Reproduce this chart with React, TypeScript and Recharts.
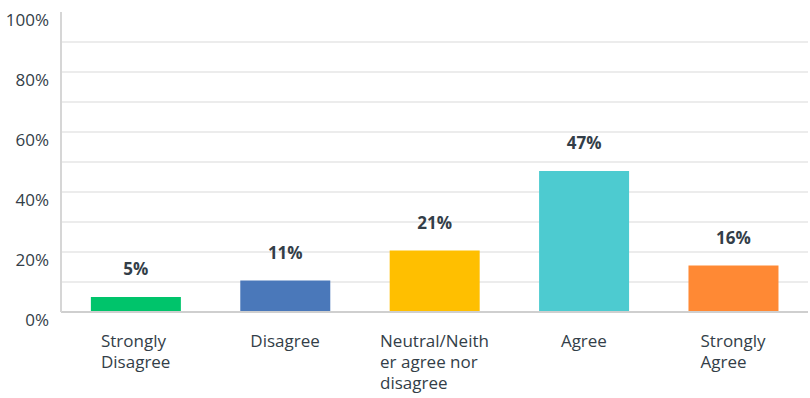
import React, { useLayoutEffect, useRef, useState } from "react";
import { BarChart, Bar, XAxis, YAxis, CartesianGrid, LabelList, Cell } from "recharts";

const categories = ["Strongly Disagree", "Disagree", "Neutral/Neither agree nor disagree", "Agree", "Strongly Agree"];
const categoryLines = [
  ["Strongly", "Disagree"],
  ["Disagree"],
  ["Neutral/Neith", "er agree nor", "disagree"],
  ["Agree"],
  ["Strongly", "Agree"],
];
const values = [5.0, 10.5, 20.5, 47.0, 15.5];
const colors = ["#00c46b", "#4a78ba", "#ffbf00", "#4dcbd0", "#ff8934"];
const yTicks = [0, 10, 20, 30, 40, 50, 60, 70, 80, 90, 100];
const yLabelTicks = [0, 20, 40, 60, 80, 100];

const data = categories.map((c, i) => ({ name: c, value: values[i], lines: categoryLines[i] }));

const FONT = "'Open Sans', 'Noto Sans', sans-serif";
const TEXT = "#333e48";

const XTick = (props: any) => {
  const { x, y, payload, index } = props;
  const ref = useRef<SVGTextElement>(null);
  const [w, setW] = useState(0);
  useLayoutEffect(() => {
    if (ref.current) setW(ref.current.getBBox().width);
  }, []);
  const lines = categoryLines[index] || [payload.value];
  return (
    <g transform={`translate(${x - w / 2},${y})`}>
      <text ref={ref} x={0} y={0} textAnchor="start" fill={TEXT} fontSize={17} fontFamily={FONT}>
        {lines.map((l: string, i: number) => (
          <tspan key={i} x={0} y={35 + i * 21}>{l}</tspan>
        ))}
      </text>
    </g>
  );
};

const YTick = (props: any) => {
  const { x, y, payload } = props;
  if (!yLabelTicks.includes(payload.value)) return <g />;
  return (
    <text x={x} y={y + 8} dy="0.355em" textAnchor="end" fill={TEXT} fontSize={17} fontFamily={FONT}>
      {payload.value}%
    </text>
  );
};

const GridLine = (props: any) => {
  const { x1, y1, x2, y2, index } = props;
  if (index === yTicks.length - 1) return <g key={props.key} />;
  return <line key={props.key} x1={x1} y1={y1} x2={x2} y2={y2} stroke="#ececec" strokeWidth={2} />;
};

export default function App() {
  return (
    <div style={{ position: "absolute", left: 0, top: 0, background: "#fff" }}>
      <BarChart
        width={810}
        height={398}
        data={data}
        margin={{ top: 12, right: 2, left: 0, bottom: 6 }}
        barCategoryGap="20%"
      >
        <CartesianGrid vertical={false} horizontal={(p: any) => <GridLine {...p} />} />
        <XAxis
          dataKey="name"
          interval={0}
          height={80}
          tickLine={false}
          tickSize={0}
          tickMargin={0}
          axisLine={{ stroke: "#cfcfcf", strokeWidth: 2 }}
          tick={<XTick />}
        />
        <YAxis
          width={61}
          domain={[0, 100]}
          ticks={yTicks}
          interval={0}
          tickLine={false}
          tickSize={0}
          tickMargin={12}
          axisLine={{ stroke: "#d6d6d6", strokeWidth: 2 }}
          tick={<YTick />}
        />
        <Bar dataKey="value" isAnimationActive={false}>
          {data.map((d, i) => (
            <Cell key={i} fill={colors[i]} />
          ))}
          <LabelList
            dataKey="value"
            position="top"
            offset={22}
            formatter={(v: any) => `${Math.round(v)}%`}
            fill={TEXT}
            fontSize={17}
            fontWeight={700}
            fontFamily={FONT}
          />
        </Bar>
      </BarChart>
    </div>
  );
}
